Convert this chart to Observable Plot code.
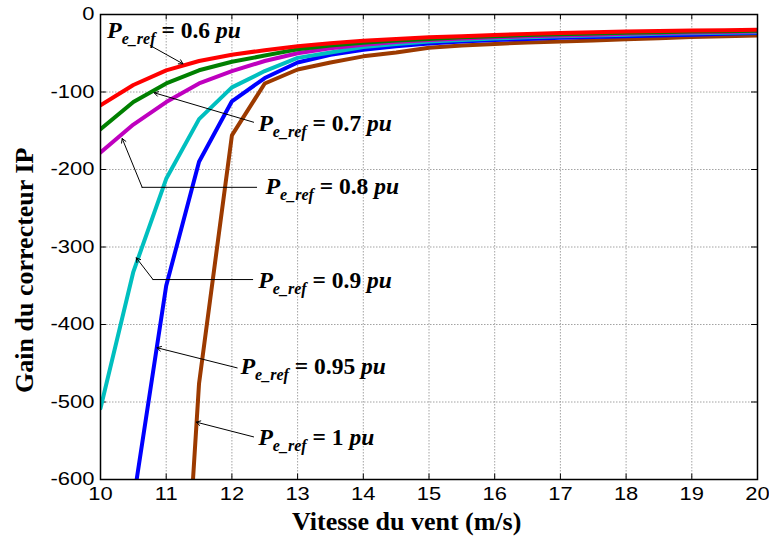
<!DOCTYPE html>
<html><head><meta charset="utf-8">
<script src="https://cdn.jsdelivr.net/npm/d3@7"></script>
<script src="https://cdn.jsdelivr.net/npm/@observablehq/plot@0.6"></script>
<style>body{margin:0;background:#fff}</style>
</head><body><div id="chart"></div>
<script>
const xVals = [10,10.5,11,11.5,12,12.5,13,13.5,14,14.5,15,15.5,16,16.5,17,17.5,18,18.5,19,19.5,20];
const xTicks = [10,11,12,13,14,15,16,17,18,19,20];
const yTicks = [0,-100,-200,-300,-400,-500,-600];
const seriesNames = ["1 pu","0.95 pu","0.9 pu","0.8 pu","0.7 pu","0.6 pu"];
const seriesColors = ["#9c3a00","#0000ff","#00bfbf","#bf00bf","#008000","#ff0000"];
const p100 = [null,null,-1150,-476,-156,-89,-71,-62,-54,-49,-43,-40,-38,-36,-35,-33.5,-32,-30.5,-29,-28,-27];
const p095 = [null,-628,-350,-190,-112,-82,-62,-52,-45.5,-41,-37.5,-35,-33,-31.5,-30,-29,-28,-27,-26,-25,-24];
const p090 = [-508,-332,-212,-135,-94,-73,-56,-49,-42,-38,-35,-33,-31,-29.5,-28,-27,-26,-25,-24.3,-23.7,-23];
const p080 = [-178,-142,-113,-89,-73,-60,-50,-43.5,-39,-35.5,-33,-31,-29.5,-28,-27,-26,-25,-24,-23.3,-22.7,-22];
const p070 = [-148,-113,-89,-72,-61,-53,-45,-40,-36.5,-33.5,-31.5,-29.5,-28,-26.5,-25.5,-24.5,-23.5,-22.8,-22,-21.5,-21];
const p060 = [-117,-91,-72,-60,-52,-46,-41,-37,-34,-31.5,-29.5,-28,-26.5,-25,-24,-23,-22,-21.3,-20.7,-20.2,-19.7];
const seriesValues = [p100,p095,p090,p080,p070,p060];

// annotations: label value, text anchor point, arrow start, arrow end
const annLabels = ["0.6","0.7","0.8","0.9","0.95","1"];
const annTextX = [10.1,12.4,12.51,12.4,12.13,12.4];
const annTextY = [-21,-141,-222,-343,-454,-546];
const arrowX1 = [10.756,12.33,10.634,10.80,12.08,12.33];
const arrowY1 = [-40,-139,-223,-342,-456,-545];
const arrowX2 = [11.255,10.817,10.33,10.545,10.86,11.458];
const arrowY2 = [-63.6,-101,-160,-314,-430,-526];
// horizontal leader segments (elbows) for 0.8 and 0.9
const leaderX1 = [12.39,12.33];
const leaderX2 = [10.634,10.80];
const leaderY = [-223,-342];

const rows = [];
seriesValues.forEach((vals, s) => vals.forEach((v, i) => { if (v != null) rows.push({x: xVals[i], y: v, s: seriesNames[s]}); }));
const ann = annLabels.map((l, i) => ({l, tx: annTextX[i], ty: annTextY[i], x1: arrowX1[i], y1: arrowY1[i], x2: arrowX2[i], y2: arrowY2[i]}));
const leaders = leaderX1.map((x1, i) => ({x1, x2: leaderX2[i], y: leaderY[i]}));

const serif = "'Liberation Serif', 'Times New Roman', serif";
const sans = "'Liberation Sans', Arial, sans-serif";

const plot = Plot.plot({
  width: 769, height: 541,
  marginLeft: 100, marginRight: 12, marginTop: 14, marginBottom: 62,
  style: {fontFamily: sans, fontSize: "18px", background: "#fff", color: "#000"},
  x: {domain: [10, 20], ticks: xTicks, tickSize: 0, tickPadding: 8, tickFormat: d => String(d), label: null},
  y: {domain: [-600, 0], ticks: yTicks, tickSize: 0, tickPadding: 6, tickFormat: d => String(d), label: null},
  color: {domain: seriesNames, range: seriesColors},
  marks: [
    Plot.ruleX(xTicks, {x: d => d, stroke: "#8c8c8c", strokeWidth: 0.8, strokeDasharray: "1.5,1.5"}),
    Plot.ruleY(yTicks, {y: d => d, stroke: "#8c8c8c", strokeWidth: 0.8, strokeDasharray: "1.5,1.5"}),
    Plot.ruleX(xTicks, {x: d => d, y1: -600, y2: -593, stroke: "#000", strokeWidth: 1}),
    Plot.ruleX(xTicks, {x: d => d, y1: 0, y2: -7, stroke: "#000", strokeWidth: 1}),
    Plot.ruleY(yTicks, {y: d => d, x1: 10, x2: 10.09, stroke: "#000", strokeWidth: 1}),
    Plot.ruleY(yTicks, {y: d => d, x1: 20, x2: 19.91, stroke: "#000", strokeWidth: 1}),
    Plot.line(rows, {x: "x", y: "y", z: "s", stroke: "s", strokeWidth: 4, strokeLinejoin: "miter", clip: true}),
    Plot.ruleY(leaders, {x1: "x1", x2: "x2", y: "y", stroke: "#000", strokeWidth: 1}),
    Plot.arrow(ann, {x1: "x1", y1: "y1", x2: "x2", y2: "y2", stroke: "#000", strokeWidth: 1, headLength: 7, bend: 0}),
    Plot.text(ann, {x: "tx", y: "ty", text: "l", textAnchor: "start", fontFamily: "annotserif", fill: "#000"}),
    Plot.text(["Vitesse du vent (m/s)"], {x: 14.66, y: -655, text: d => d, fontFamily: serif, fontWeight: "bold", fontSize: 26, fill: "#000"}),
    Plot.text(["Gain du correcteur IP"], {x: 8.84, y: -330, text: d => d, rotate: -90, fontFamily: serif, fontWeight: "bold", fontSize: 26, fill: "#000"}),
    Plot.frame({stroke: "#000", strokeWidth: 1.5})
  ]
});

// Rich text for annotations: P_{e_ref} = value pu
const ns = "http://www.w3.org/2000/svg";
const annTexts = [];
plot.querySelectorAll("g").forEach(g => {
  const ff = g.getAttribute("font-family");
  if (ff && ff.indexOf("annotserif") >= 0) {
    g.setAttribute("font-family", serif);
    g.querySelectorAll("text").forEach(t => annTexts.push(t));
  }
});
annTexts.forEach(t => {
  const val = t.textContent;
  t.textContent = "";
  t.setAttribute("font-family", serif);
  t.setAttribute("font-weight", "bold");
  t.setAttribute("font-size", "23.5");
  const parts = [
    {s: "P", style: "italic", size: 24, dy: 0},
    {s: "e_ref", style: "italic", size: 16, dy: 6},
    {s: " = " + val + " ", style: "normal", size: 23.5, dy: -6},
    {s: "pu", style: "italic", size: 23.5, dy: 0}
  ];
  parts.forEach(p => {
    const ts = document.createElementNS(ns, "tspan");
    ts.textContent = p.s;
    ts.setAttribute("font-style", p.style);
    ts.setAttribute("font-size", p.size);
    if (p.dy) ts.setAttribute("dy", p.dy);
    t.appendChild(ts);
  });
  t.setAttribute("style", "white-space:pre");
});

document.getElementById("chart").appendChild(plot);

// Tick labels in the reference are horizontally wider: stretch numeric labels
plot.querySelectorAll("text").forEach(t => {
  if (/^-?\d+$/.test(t.textContent.trim())) {
    const len = t.getComputedTextLength();
    if (len > 0) {
      t.setAttribute("textLength", (len * 1.22).toFixed(1));
      t.setAttribute("lengthAdjust", "spacingAndGlyphs");
    }
  }
});
</script>
</body></html>
